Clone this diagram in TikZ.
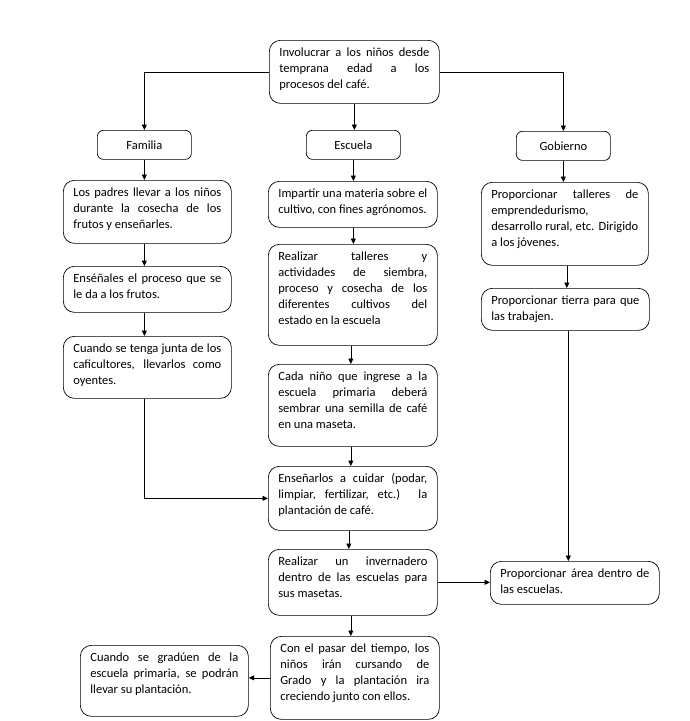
\documentclass[tikz,border=0pt]{standalone}
\usepackage{fontspec}
\setmainfont{Carlito}
\usetikzlibrary{arrows.meta}
\newcommand\jline[1]{\makebox[\linewidth][s]{#1}\\}
\newcommand\lline[1]{\mbox{#1}}
\newcommand\bodyfont{\fontsize{12.5}{16}\selectfont}
\tikzset{
  box/.style={draw, line width=0.7pt, rounded corners=11pt, anchor=north west,
    inner xsep=10pt, inner ysep=7.5pt, font=\bodyfont},
  hbox/.style={draw, line width=0.7pt, rounded corners=6pt, anchor=north west,
    minimum width=94pt, minimum height=29pt, inner sep=0pt, font=\bodyfont},
  arr/.style={line width=0.7pt, -{Triangle[length=5.5pt,width=5pt]}},
  ln/.style={line width=0.7pt}
}
\begin{document}
\begin{tikzpicture}[x=1pt,y=-1pt]
\useasboundingbox (0,0) rectangle (690,721);
% top
\node[box] (top) at (269,40) {\parbox[c][48pt][t]{150pt}{\jline{Involucrar a los niños desde}\jline{temprana edad a los}\lline{procesos del café.}}};
% headers
\node[hbox] (fam) at (97,130) {Familia};
\node[hbox] (esc) at (306,130) {Escuela};
\node[hbox] (gob) at (516,131) {Gobierno};
% left column
\node[box] (l1) at (63,180) {\parbox[c][48pt][t]{148pt}{\jline{Los padres llevar a los niños}\jline{durante la cosecha de los}\lline{frutos y enseñarles.}}};
\node[box] (l2) at (63,266) {\parbox[c][31pt][t]{148pt}{\jline{Enséñales el proceso que se}\lline{le da a los frutos.}}};
\node[box] (l3) at (63,336) {\parbox[c][47pt][t]{148pt}{\jline{Cuando se tenga junta de los}\jline{caficultores, llevarlos como}\lline{oyentes.}}};
% middle column
\node[box] (e1) at (268,181) {\parbox[c][31pt][t]{149pt}{\jline{Impartir una materia sobre el}\lline{cultivo, con fines agrónomos.}}};
\node[box] (e2) at (268,244) {\parbox[c][86pt][t]{149pt}{\jline{Realizar talleres y}\jline{actividades de siembra,}\jline{proceso y cosecha de los}\jline{diferentes cultivos del}\lline{estado en la escuela}}};
\node[box] (e3) at (268,364) {\parbox[c][67pt][t]{149pt}{\jline{Cada niño que ingrese a la}\jline{escuela primaria deberá}\jline{sembrar una semilla de café}\lline{en una maseta.}}};
\node[box] (e4) at (268,466) {\parbox[c][49pt][t]{149pt}{\jline{Enseñarlos a cuidar (podar,}\jline{limpiar, fertilizar, etc.) la}\lline{plantación de café.}}};
\node[box] (e5) at (268,549) {\parbox[c][51pt][t]{149pt}{\jline{Realizar un invernadero}\jline{dentro de las escuelas para}\lline{sus masetas.}}};
\node[box] (e6) at (270,636) {\parbox[c][68pt][t]{149pt}{\jline{Con el pasar del tiempo, los}\jline{niños irán cursando de}\jline{Grado y la plantación ira}\lline{creciendo junto con ellos.}}};
\node[box] (b1) at (80,645) {\parbox[c][56pt][t]{148pt}{\jline{Cuando se gradúen de la}\jline{escuela primaria, se podrán}\lline{llevar su plantación.}}};
% right column
\node[box] (g1) at (481,182) {\parbox[c][68pt][t]{147pt}{\jline{Proporcionar talleres de}\lline{emprendedurismo,}\\\jline{desarrollo rural, etc. Dirigido}\lline{a los jóvenes.}}};
\node[box] (g2) at (481,288) {\parbox[c][27pt][t]{148pt}{\jline{Proporcionar tierra para que}\lline{las trabajen.}}};
\node[box] (g3) at (490,561) {\parbox[c][28pt][t]{149pt}{\jline{Proporcionar área dentro de}\lline{las escuelas.}}};
% connectors
\draw[arr] (top.west) -| (fam.north);
\draw[arr] (top.south) -- (top.south |- esc.north);
\draw[arr] (top.east) -| (gob.north);
\draw[arr] (fam.south) -- (fam.south |- l1.north);
\draw[arr] (fam.south |- l1.south) -- (fam.south |- l2.north);
\draw[arr] (fam.south |- l2.south) -- (fam.south |- l3.north);
\coordinate (lc) at (fam.south |- e4.west);
\draw[arr] (fam.south |- l3.south) -- (lc) -- (e4.west);
\draw[arr] (esc.south) -- (esc.south |- e1.north);
\draw[arr] (esc.south |- e1.south) -- (esc.south |- e2.north);
\draw[arr] ([xshift=-2pt]e2.south) -- ([xshift=-2pt]e2.south |- e3.north);
\draw[arr] ([xshift=-2pt]e3.south) -- ([xshift=-2pt]e3.south |- e4.north);
\draw[arr] ([xshift=-4pt]e4.south) -- ([xshift=-4pt]e4.south |- e5.north);
\draw[arr] ([xshift=-2pt]e5.south) -- ([xshift=-2pt]e5.south |- e6.north);
\draw[arr] (gob.south) -- (gob.south |- g1.north);
\draw[arr] ([xshift=2pt]g1.south) -- ([xshift=2pt]g1.south |- g2.north);
\draw[arr] ([xshift=3pt]g2.south) -- ([xshift=3pt]g2.south |- g3.north);
\draw[arr] (e5.east) -- (e5.east -| g3.west);
\draw[arr] (e6.west) -- (e6.west -| b1.east);
\end{tikzpicture}
\end{document}
